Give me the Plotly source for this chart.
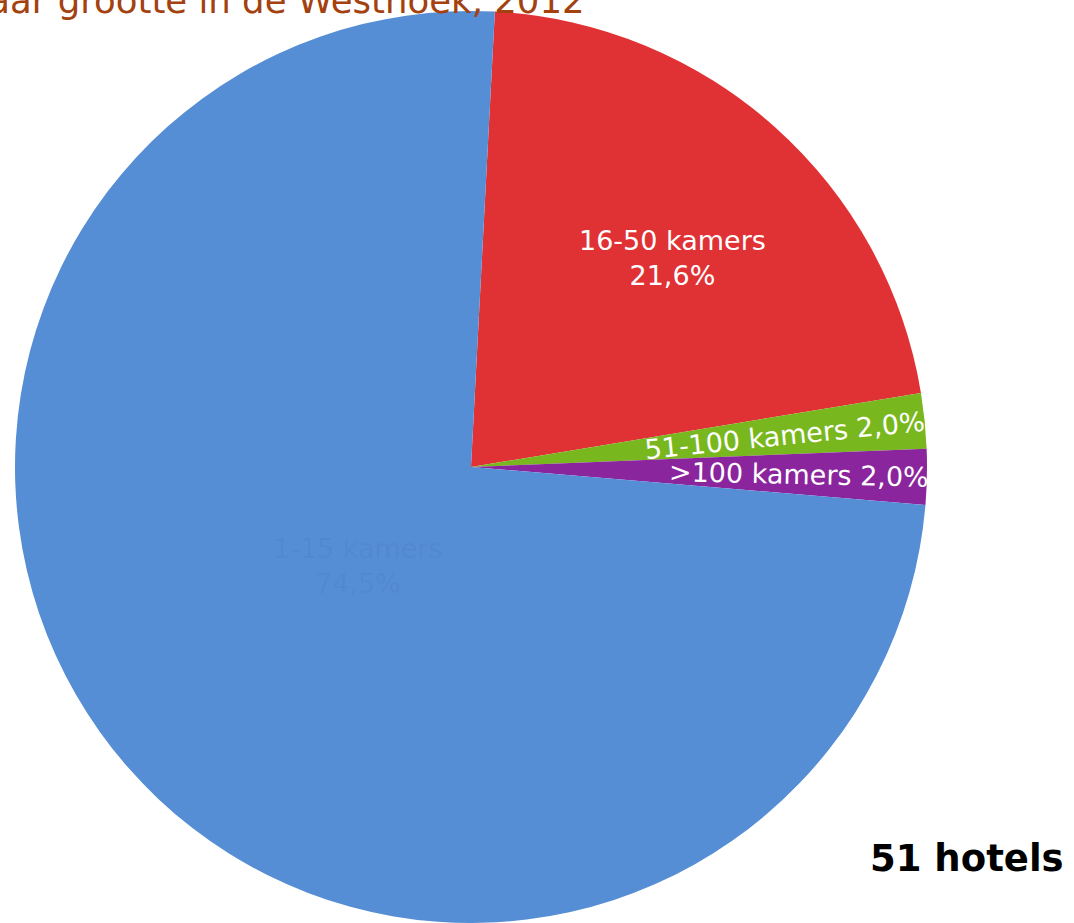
import math
import plotly.graph_objects as go

# hotels per size class, Westhoek 2012 (51 hotels)
labels = ['16-50 kamers', '51-100 kamers', '>100 kamers', '1-15 kamers']
counts = [11, 1, 1, 38]
colors = ['#e03134', '#78b81e', '#8a259d', '#558ed5']
total_label = '51 hotels'
title_text = 'Hotels naar grootte in de Westhoek, 2012'

W, H = 1074, 923
FONT = 'DejaVu Sans'
rotation = 3

# pie placement (pixels)
cx_px, cy_px, r_px = 471, 467, 456
dom_x = [(cx_px - r_px) / W, (cx_px + r_px) / W]
dom_y = [(H - cy_px - r_px) / H, (H - cy_px + r_px) / H]

fig = go.Figure(go.Pie(
    labels=labels,
    values=counts,
    sort=False,
    direction='clockwise',
    rotation=rotation,
    marker=dict(colors=colors, line=dict(width=0)),
    textinfo='none',
    hoverinfo='label+percent',
    showlegend=False,
    domain=dict(x=dom_x, y=dom_y),
))

total = sum(counts)
pct = [f'{v / total * 100:.1f}'.replace('.', ',') for v in counts]

# label placement: fraction of radius along each slice's mid angle (+ small nudge in degrees)
radial = [0.636, 0.69, 0.72, 0.33]
nudge = [2.1, 0, 0, 0]
horizontal = [True, False, False, True]
font_colors = ['white', 'white', 'white', 'rgba(25,55,105,0.07)']

start = rotation
for i, v in enumerate(counts):
    span = v / total * 360
    mid = start + span / 2
    start += span
    a = math.radians(mid + nudge[i])
    x_px = cx_px + radial[i] * r_px * math.sin(a)
    y_px = cy_px - radial[i] * r_px * math.cos(a)
    if horizontal[i]:
        txt = f'{labels[i]}<br>{pct[i]}%'
        angle = 0
    else:
        txt = f'{labels[i]} {pct[i]}%'
        angle = mid - 90
    fig.add_annotation(
        x=x_px / W, y=(H - y_px) / H, xref='paper', yref='paper',
        text=txt, showarrow=False, textangle=angle,
        font=dict(family=FONT, size=27, color=font_colors[i]),
        xanchor='center', yanchor='middle',
    )

# title, partly cut off at the top-left like the source
fig.add_annotation(
    x=587 / W, y=1.0 - 23 / H, xref='paper', yref='paper',
    text=title_text, showarrow=False,
    font=dict(family=FONT, size=35.5, color='#a3410f'),
    xanchor='right', yanchor='bottom',
)

fig.add_annotation(
    x=1066 / W, y=(H - 858) / H, xref='paper', yref='paper',
    text=f'<b>{total_label}</b>', showarrow=False,
    font=dict(family=FONT, size=37, color='black'),
    xanchor='right', yanchor='middle',
)

fig.update_layout(
    width=W, height=H,
    margin=dict(l=0, r=0, t=0, b=0),
    paper_bgcolor='white',
    plot_bgcolor='white',
)

# drop the default page margin so the figure fills the window exactly
fig.write_html('out.html', config={'displayModeBar': False},
               post_script="document.body.style.margin='0';")
